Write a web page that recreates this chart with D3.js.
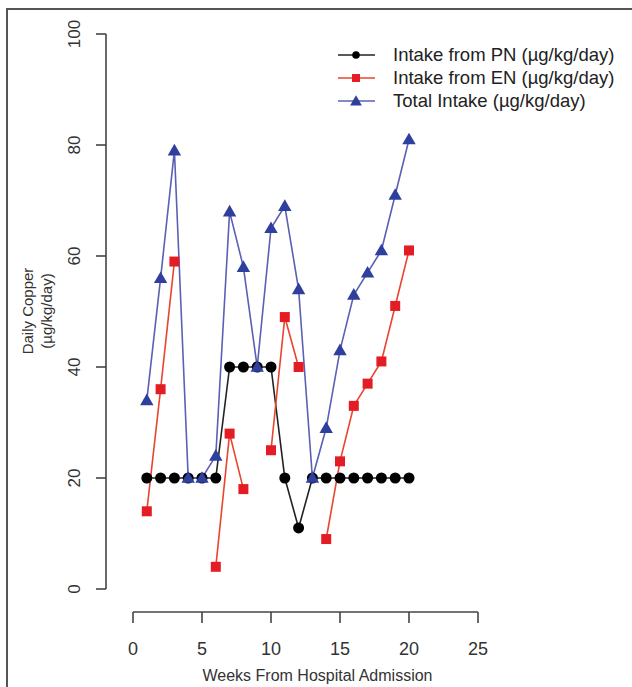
<!DOCTYPE html>
<html>
<head>
<meta charset="utf-8">
<script src="https://cdn.jsdelivr.net/npm/d3@7"></script>
<style>
  html, body { margin: 0; padding: 0; background: #fff; }
  svg { display: block; font-family: "Liberation Sans", Arial, Helvetica, sans-serif; }
</style>
</head>
<body>
<script>
const weeks = [1,2,3,4,5,6,7,8,9,10,11,12,13,14,15,16,17,18,19,20];
const pnIntake = [20,20,20,20,20,20,40,40,40,40,20,11,20,20,20,20,20,20,20,20];
const enIntake = [14,36,59,null,null,4,28,18,null,25,49,40,null,9,23,33,37,41,51,61];
const totalIntake = [34,56,79,20,20,24,68,58,40,65,69,54,20,29,43,53,57,61,71,81];
const xTicks = [0,5,10,15,20,25];
const yTicks = [0,20,40,60,80,100];
const seriesNames = ["Intake from PN (\u00b5g/kg/day)", "Intake from EN (\u00b5g/kg/day)", "Total Intake (\u00b5g/kg/day)"];
const xTitle = "Weeks From Hospital Admission";
const yTitle = ["Daily Copper", "(\u00b5g/kg/day)"];

const W = 632, H = 687;
const svg = d3.select("body").append("svg").attr("width", W).attr("height", H);

// outer frame
svg.append("rect").attr("x", 7).attr("y", 9).attr("width", 700).attr("height", 700)
  .attr("fill", "none").attr("stroke", "#555").attr("stroke-width", 2);

const x = d3.scaleLinear().domain([0, 25]).range([133, 478]);
const y = d3.scaleLinear().domain([0, 100]).range([589, 34]);

// Y axis (R-style)
const yAxisX = 106;
const gy = svg.append("g");
gy.append("line").attr("x1", yAxisX).attr("x2", yAxisX).attr("y1", y(0)).attr("y2", y(100))
  .attr("stroke", "#444").attr("stroke-width", 1.6);
gy.selectAll("line.t").data(yTicks).enter().append("line").attr("class","t")
  .attr("x1", yAxisX).attr("x2", yAxisX - 10).attr("y1", d => y(d)).attr("y2", d => y(d))
  .attr("stroke", "#444").attr("stroke-width", 1.6);
gy.selectAll("text").data(yTicks).enter().append("text")
  .attr("transform", d => `translate(80,${y(d)}) rotate(-90)`)
  .attr("text-anchor", "middle").attr("font-size", 17).attr("fill", "#333")
  .text(d => d);

// X axis
const xAxisY = 612;
const gx = svg.append("g");
gx.append("line").attr("x1", x(0)).attr("x2", x(25)).attr("y1", xAxisY).attr("y2", xAxisY)
  .attr("stroke", "#444").attr("stroke-width", 1.6);
gx.selectAll("line.t").data(xTicks).enter().append("line").attr("class","t")
  .attr("x1", d => x(d)).attr("x2", d => x(d)).attr("y1", xAxisY).attr("y2", xAxisY + 11)
  .attr("stroke", "#444").attr("stroke-width", 1.6);
gx.selectAll("text").data(xTicks).enter().append("text")
  .attr("x", d => x(d)).attr("y", 655)
  .attr("text-anchor", "middle").attr("font-size", 18).attr("fill", "#333")
  .text(d => d);

svg.append("text").attr("x", (x(0) + x(25)) / 2 + 12).attr("y", 681)
  .attr("text-anchor", "middle").attr("font-size", 16).attr("fill", "#333").text(xTitle);

svg.append("text").attr("transform", `translate(33,311) rotate(-90)`)
  .attr("text-anchor", "middle").attr("font-size", 15).attr("fill", "#333").text(yTitle[0]);
svg.append("text").attr("transform", `translate(52,311) rotate(-90)`)
  .attr("text-anchor", "middle").attr("font-size", 15).attr("fill", "#333").text(yTitle[1]);

const line = d3.line().defined(d => d.v != null).x(d => x(d.w)).y(d => y(d.v));
const toPts = arr => weeks.map((w, i) => ({ w, v: arr[i] }));

const series = [
  { data: toPts(pnIntake), line: "#222", fill: "#000", shape: "circle" },
  { data: toPts(enIntake), line: "#e8442e", fill: "#e41c24", shape: "square" },
  { data: toPts(totalIntake), line: "#5a60b4", fill: "#2f3f9e", shape: "triangle" }
];

const sym = {
  circle: d3.symbol().type(d3.symbolCircle).size(95),
  square: d3.symbol().type(d3.symbolSquare).size(100),
  triangle: d3.symbol().type(d3.symbolTriangle).size(78)
};

series.forEach(s => {
  svg.append("path").datum(s.data).attr("d", line)
    .attr("fill", "none").attr("stroke", s.line).attr("stroke-width", 1.6);
});
series.forEach(s => {
  svg.selectAll(null).data(s.data.filter(d => d.v != null)).enter().append("path")
    .attr("transform", d => `translate(${x(d.w)},${y(d.v) + (s.shape === "triangle" ? 1 : 0)})`)
    .attr("d", sym[s.shape]).attr("fill", s.fill);
});

// legend
const legY = [55, 78, 101];
series.forEach((s, i) => {
  const g = svg.append("g");
  g.append("line").attr("x1", 338).attr("x2", 375).attr("y1", legY[i]).attr("y2", legY[i])
    .attr("stroke", s.line).attr("stroke-width", 1.6);
  const sz = { circle: 45, square: 64, triangle: 60 }[s.shape];
  g.append("path").attr("transform", `translate(356,${legY[i] + (s.shape === "triangle" ? 1 : 0)})`)
    .attr("d", d3.symbol().type(s.shape === "circle" ? d3.symbolCircle : s.shape === "square" ? d3.symbolSquare : d3.symbolTriangle).size(sz))
    .attr("fill", s.fill);
  g.append("text").attr("x", 393).attr("y", legY[i] + 6).attr("font-size", 18.5).attr("fill", "#222")
    .text(seriesNames[i]);
});
</script>
</body>
</html>
